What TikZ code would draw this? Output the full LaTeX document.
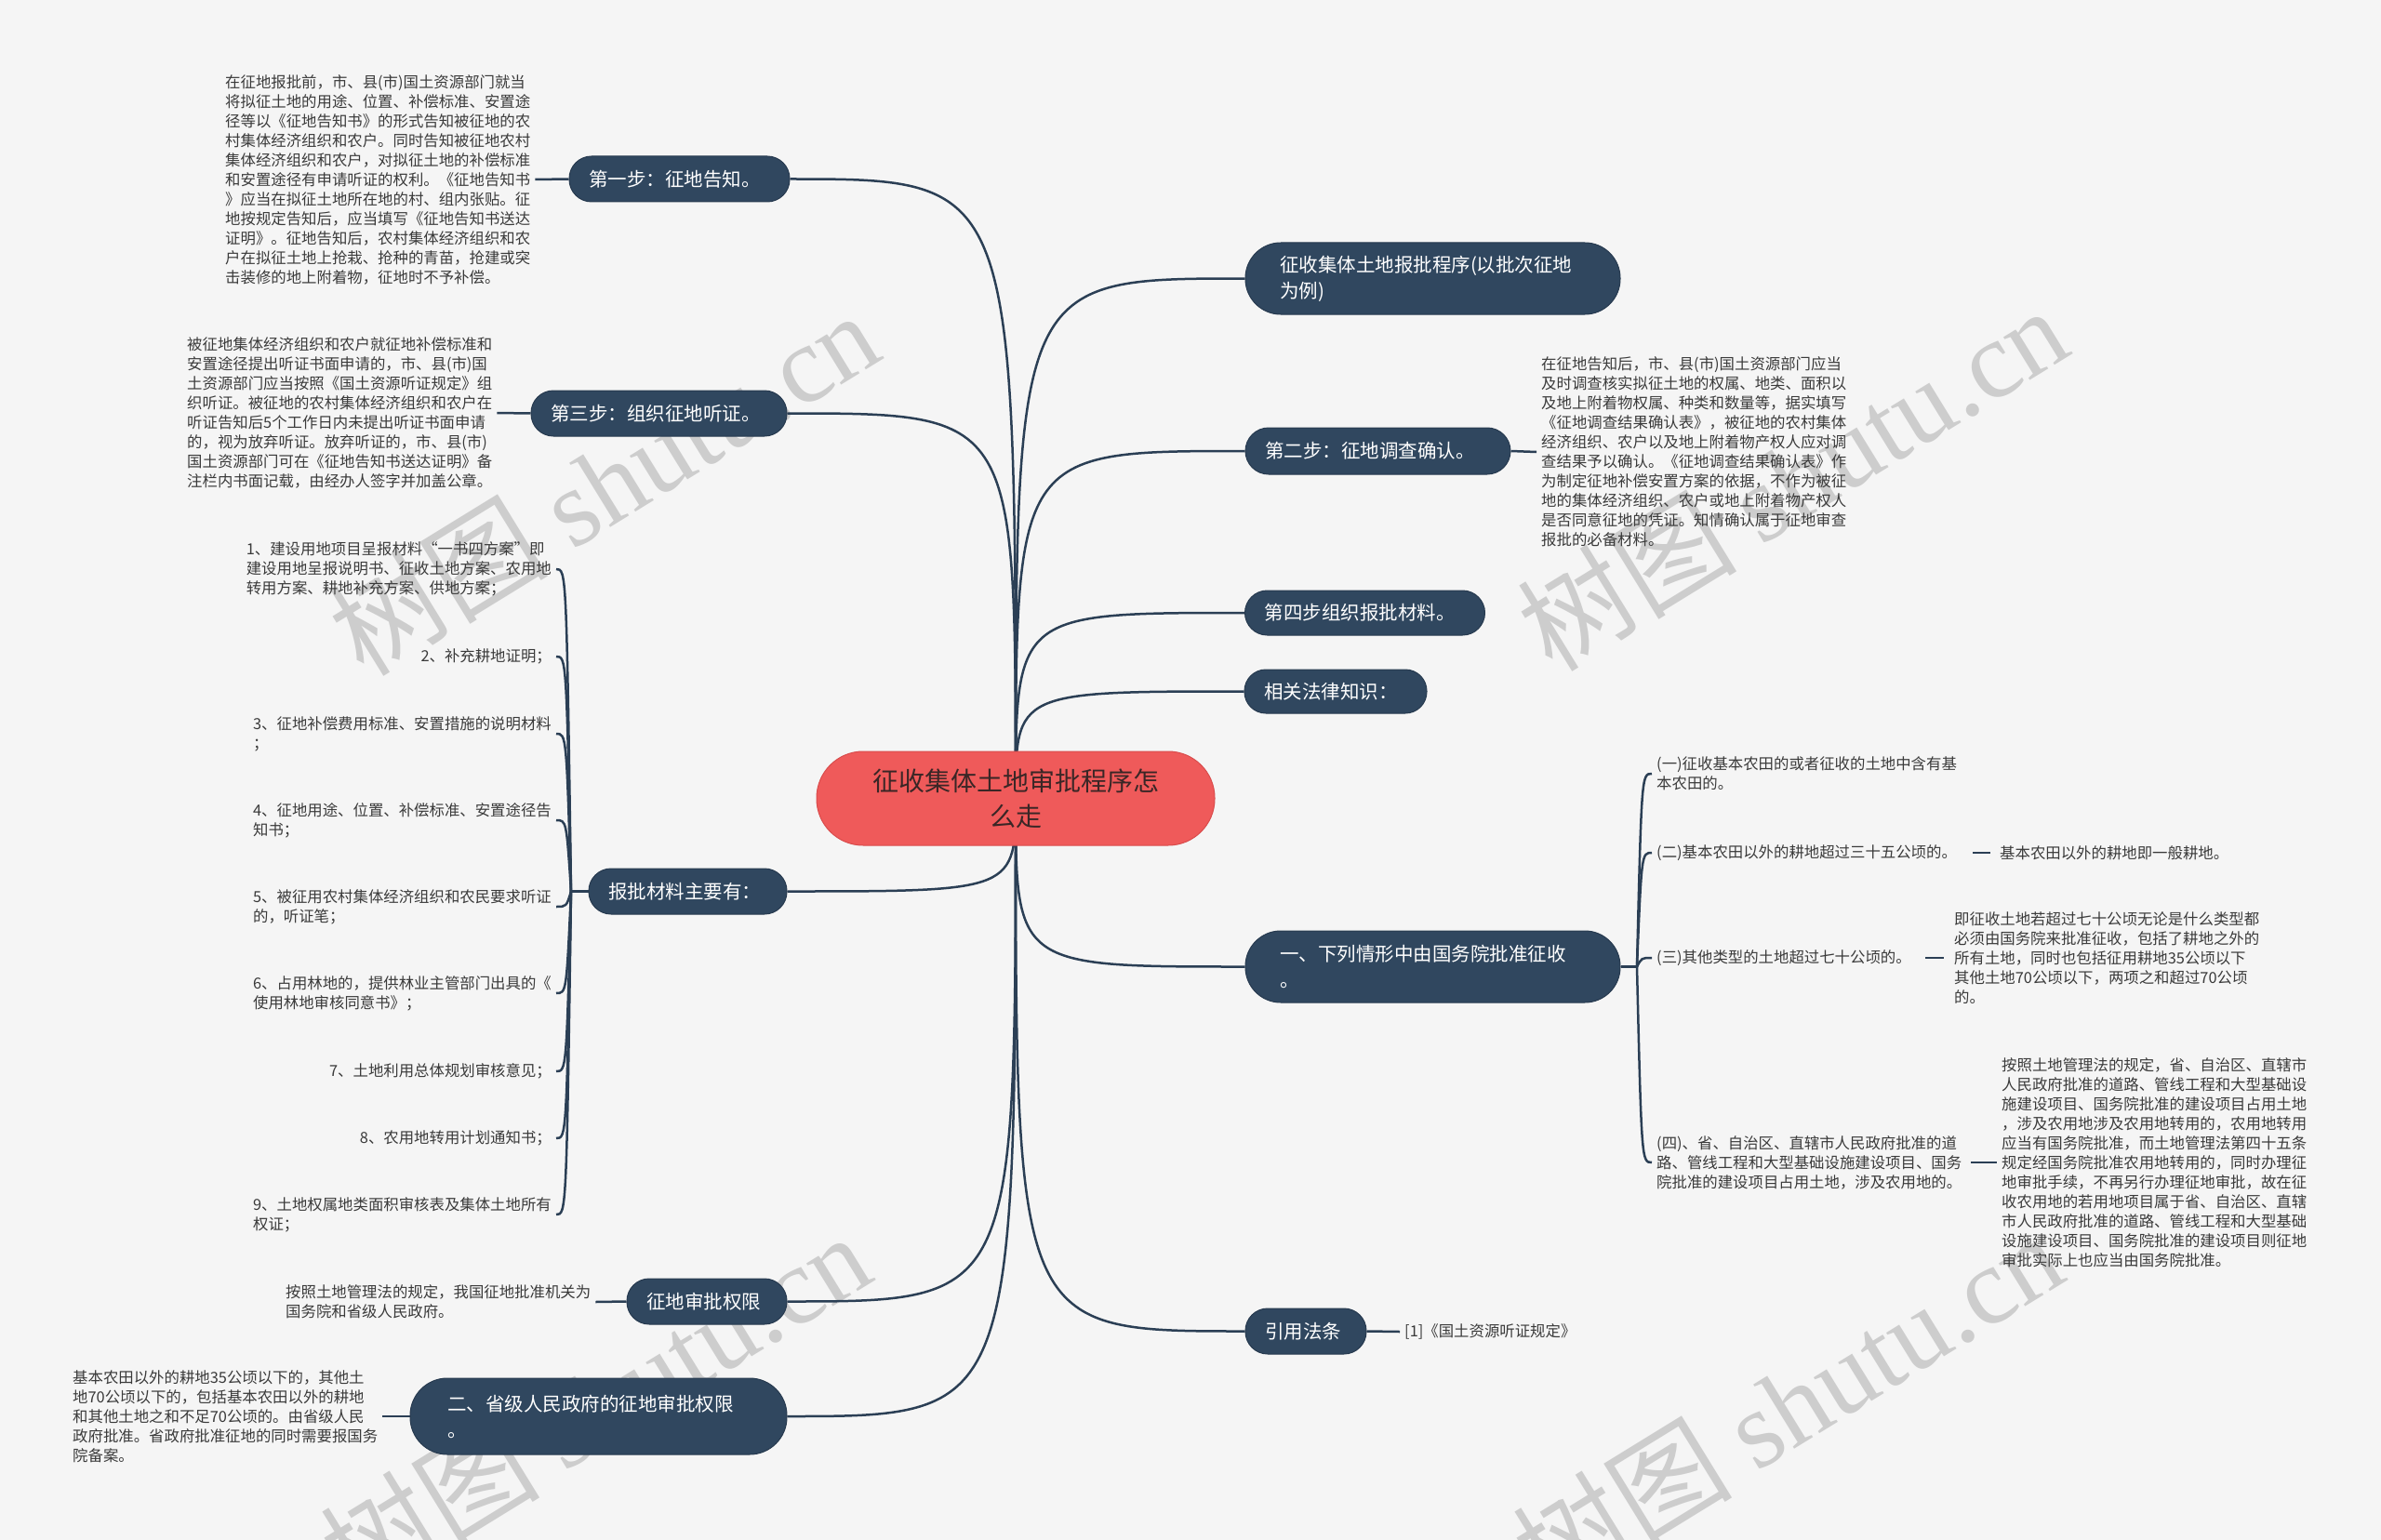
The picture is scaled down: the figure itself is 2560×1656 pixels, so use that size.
\documentclass[tikz,border=0pt]{standalone}
\usepackage{fontspec}
\setmainfont{Noto Sans CJK SC}
\newfontfamily\wmserif{Liberation Serif}
\usetikzlibrary{calc}
\pgfdeclarelayer{background}
\pgfsetlayers{background,main}
\definecolor{bgc}{HTML}{F5F5F5}
\definecolor{boxc}{HTML}{30475F}
\definecolor{boxedge}{HTML}{273A4F}
\definecolor{linec}{HTML}{2B3F55}
\definecolor{rootc}{HTML}{EF5A5A}
\definecolor{rootedge}{HTML}{D94C4C}
\definecolor{roottxt}{HTML}{3A2626}
\definecolor{txtc}{HTML}{3A3A3A}
\definecolor{wmc}{HTML}{CDCDCD}
\begin{document}
\begin{tikzpicture}[x=1pt,y=-1pt,
  conn/.style={draw=linec, line width=2.5pt},
  box/.style={fill=boxc, draw=boxedge, line width=1pt, text=white,
    font=\fontsize{20.5}{28}\selectfont, align=left, inner ysep=0pt},
  rootbox/.style={fill=rootc, draw=rootedge, line width=1pt, text=roottxt,
    font=\fontsize{28}{38}\selectfont, align=center, inner ysep=0pt},
  det/.style={text=txtc, font=\fontsize{16.4}{21}\selectfont, align=left, inner xsep=5pt, inner ysep=2pt},
  wm/.style={text=wmc, font=\fontsize{118}{118}\selectfont, rotate=31.6, anchor=center, inner sep=0pt}
]
\useasboundingbox (0,0) rectangle (2560,1656);

% ---------- root ----------
\node[rootbox, minimum width=428pt, minimum height=101pt, rounded corners=50pt] (C) at (1092,858.5)
  {征收集体土地审批程序怎\\么走};

% ---------- left boxes ----------
\node[box, minimum height=49pt, text width=195pt, inner xsep=21pt, rounded corners=24pt] (b1) at (730.5,192.5) {第一步：征地告知。};
\node[box, minimum height=49pt, text width=233pt, inner xsep=21pt, rounded corners=24pt] (b3) at (708.5,444.5) {第三步：组织征地听证。};
\node[box, minimum height=49pt, text width=171pt, inner xsep=21pt, rounded corners=24pt] (bm) at (739.5,958.5) {报批材料主要有：};
\node[box, minimum height=49pt, text width=130pt, inner xsep=21pt, rounded corners=24pt] (bq) at (760,1399.5) {征地审批权限};
\node[box, minimum height=82pt, text width=325pt, inner xsep=40pt, rounded corners=40pt] (bs) at (643.5,1523) {二、省级人民政府的征地审批权限\\。};

% ---------- right boxes ----------
\node[box, minimum height=77pt, text width=329pt, inner xsep=37pt, rounded corners=38pt] (r1) at (1540.5,299.5) {征收集体土地报批程序(以批次征地\\为例)};
\node[box, minimum height=50pt, text width=243pt, inner xsep=21pt, rounded corners=25pt] (r2) at (1481.5,485) {第二步：征地调查确认。};
\node[box, minimum height=48pt, text width=216pt, inner xsep=21pt, rounded corners=24pt] (r4) at (1467.5,659) {第四步组织报批材料。};
\node[box, minimum height=47pt, text width=154pt, inner xsep=21pt, rounded corners=23pt] (rl) at (1436,743.5) {相关法律知识：};
\node[box, minimum height=77pt, text width=329pt, inner xsep=37pt, rounded corners=38pt] (rg) at (1540.5,1039.5) {一、下列情形中由国务院批准征收\\。};
\node[box, minimum height=49pt, text width=88pt, inner xsep=21pt, rounded corners=24pt] (ry) at (1404,1431.5) {引用法条};

% ---------- left details ----------
\node[det, anchor=west] (d1) at (237,193) {在征地报批前，市、县(市)国土资源部门就当\\将拟征土地的用途、位置、补偿标准、安置途\\径等以《征地告知书》的形式告知被征地的农\\村集体经济组织和农户。同时告知被征地农村\\集体经济组织和农户，对拟征土地的补偿标准\\和安置途径有申请听证的权利。《征地告知书\\》应当在拟征土地所在地的村、组内张贴。征\\地按规定告知后，应当填写《征地告知书送达\\证明》。征地告知后，农村集体经济组织和农\\户在拟征土地上抢栽、抢种的青苗，抢建或突\\击装修的地上附着物，征地时不予补偿。};
\node[det, anchor=west] (d3) at (196,444) {被征地集体经济组织和农户就征地补偿标准和\\安置途径提出听证书面申请的，市、县(市)国\\土资源部门应当按照《国土资源听证规定》组\\织听证。被征地的农村集体经济组织和农户在\\听证告知后5个工作日内未提出听证书面申请\\的，视为放弃听证。放弃听证的，市、县(市)\\国土资源部门可在《征地告知书送达证明》备\\注栏内书面记载，由经办人签字并加盖公章。};
\node[det, anchor=west] (dq) at (302,1400) {按照土地管理法的规定，我国征地批准机关为\\国务院和省级人民政府。};
\node[det, anchor=west] (ds) at (73,1523) {基本农田以外的耕地35公顷以下的，其他土\\地70公顷以下的，包括基本农田以外的耕地\\和其他土地之和不足70公顷的。由省级人民\\政府批准。省政府批准征地的同时需要报国务\\院备案。};

% ---------- materials items ----------
\node[det, anchor=east] (m1) at (598,612) {1、建设用地项目呈报材料“一书四方案”即\\建设用地呈报说明书、征收土地方案、农用地\\转用方案、耕地补充方案、供地方案；};
\node[det, anchor=east] (m2) at (598,706) {2、补充耕地证明；};
\node[det, anchor=east] (m3) at (598,789) {3、征地补偿费用标准、安置措施的说明材料\\；};
\node[det, anchor=east] (m4) at (598,882) {4、征地用途、位置、补偿标准、安置途径告\\知书；};
\node[det, anchor=east] (m5) at (598,975) {5、被征用农村集体经济组织和农民要求听证\\的，听证笔；};
\node[det, anchor=east] (m6) at (598,1068) {6、占用林地的，提供林业主管部门出具的《\\使用林地审核同意书》；};
\node[det, anchor=east] (m7) at (598,1152) {7、土地利用总体规划审核意见；};
\node[det, anchor=east] (m8) at (598,1224) {8、农用地转用计划通知书；};
\node[det, anchor=east] (m9) at (598,1306) {9、土地权属地类面积审核表及集体土地所有\\权证；};
\coordinate (hubM) at (614,958.5);

% ---------- right details ----------
\node[det, anchor=west] (d2) at (1652,486) {在征地告知后，市、县(市)国土资源部门应当\\及时调查核实拟征土地的权属、地类、面积以\\及地上附着物权属、种类和数量等，据实填写\\《征地调查结果确认表》，被征地的农村集体\\经济组织、农户以及地上附着物产权人应对调\\查结果予以确认。《征地调查结果确认表》作\\为制定征地补偿安置方案的依据，不作为被征\\地的集体经济组织、农户或地上附着物产权人\\是否同意征地的凭证。知情确认属于征地审查\\报批的必备材料。};
\coordinate (hubG) at (1760,1039.5);
\node[det, anchor=west] (g1) at (1776,832) {(一)征收基本农田的或者征收的土地中含有基\\本农田的。};
\node[det, anchor=west] (g2) at (1776,917) {(二)基本农田以外的耕地超过三十五公顷的。};
\node[det, anchor=west] (g3) at (1776,1030) {(三)其他类型的土地超过七十公顷的。};
\node[det, anchor=west] (g4) at (1776,1250) {(四)、省、自治区、直辖市人民政府批准的道\\路、管线工程和大型基础设施建设项目、国务\\院批准的建设项目占用土地，涉及农用地的。};
\node[det, anchor=west] (g2c) at (2145,917) {基本农田以外的耕地即一般耕地。};
\node[det, anchor=west] (g3c) at (2096,1030) {即征收土地若超过七十公顷无论是什么类型都\\必须由国务院来批准征收，包括了耕地之外的\\所有土地，同时也包括征用耕地35公顷以下\\其他土地70公顷以下，两项之和超过70公顷\\的。};
\node[det, anchor=west] (g4c) at (2147,1250) {按照土地管理法的规定，省、自治区、直辖市\\人民政府批准的道路、管线工程和大型基础设\\施建设项目、国务院批准的建设项目占用土地\\，涉及农用地涉及农用地转用的，农用地转用\\应当有国务院批准，而土地管理法第四十五条\\规定经国务院批准农用地转用的，同时办理征\\地审批手续，不再另行办理征地审批，故在征\\收农用地的若用地项目属于省、自治区、直辖\\市人民政府批准的道路、管线工程和大型基础\\设施建设项目、国务院批准的建设项目则征地\\审批实际上也应当由国务院批准。};
\node[det, anchor=west] (rf) at (1505,1432) {[1]《国土资源听证规定》};

\begin{pgfonlayer}{background}
  \fill[bgc] (0,0) rectangle (2560,1656);
  % watermarks
  \node[wm] (w1) at (649,519) {树图 {\wmserif shutu.cn}};
  \node[wm] (w2) at (1927,514) {树图 {\wmserif shutu.cn}};
  \node[wm] (w3) at (640,1510) {树图 {\wmserif shutu.cn}};
  \node[wm] (w4) at (1922,1510) {树图 {\wmserif shutu.cn}};
  % root connectors
  \foreach \t in {b1,b3,bm,bq,bs}{
    \draw[conn] (C.center) .. controls (C.center |- \t.east) .. (\t.east);
  }
  \foreach \t in {r1,r2,r4,rl,rg,ry}{
    \draw[conn] (C.center) .. controls (C.center |- \t.west) .. (\t.west);
  }
  % detail links
  \draw[conn] (d1.east) -- (b1.west);
  \draw[conn] (d3.east) -- (b3.west);
  \draw[conn] (dq.east) -- (bq.west);
  \draw[conn] (ds.east) -- (bs.west);
  \draw[conn] (r2.east) -- (d2.west);
  \draw[conn] (ry.east) -- (rf.west);
  \draw[conn, shorten <=12pt, shorten >=5pt] (g2.east) -- (g2c.west);
  \draw[conn, shorten <=10pt, shorten >=6pt] (g3.east) -- (g3c.west);
  \draw[conn, shorten <=5pt] (g4.east) -- (g4c.west);
  % materials bracket
  \draw[conn] (bm.west) -- (hubM);
  \foreach \m in {m1,m2,m3,m4,m5,m6,m7,m8,m9}{
    \draw[conn] (hubM) .. controls ($(hubM |- \m.east)+(-5,0)$) .. (\m.east);
  }
  % state-council bracket
  \draw[conn] (rg.east) -- (hubG);
  \foreach \g in {g1,g2,g3,g4}{
    \draw[conn] (hubG) .. controls ($(hubG |- \g.west)+(5,0)$) .. (\g.west);
  }
\end{pgfonlayer}
\end{tikzpicture}
\end{document}
